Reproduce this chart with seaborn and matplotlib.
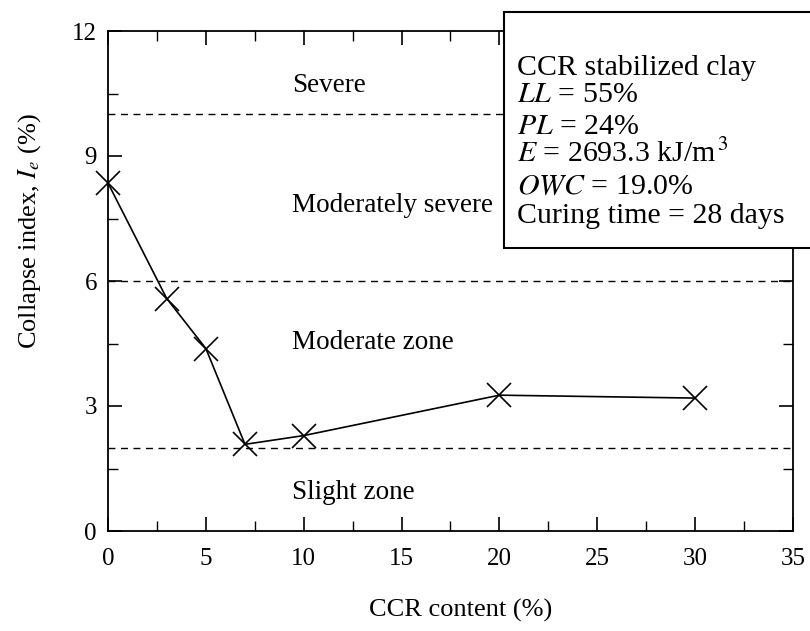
import matplotlib
matplotlib.use('Agg')
import numpy as np
import pandas as pd
import seaborn as sns
import matplotlib.pyplot as plt
from matplotlib.patches import Rectangle
from matplotlib.ticker import MultipleLocator

# data
ccr_content = [0, 3, 5, 7, 10, 20, 30]
collapse_index = [8.35, 5.58, 4.38, 2.08, 2.29, 3.26, 3.19]
zone_limits = [2, 6, 10]
zone_names = ['Severe', 'Moderately severe', 'Moderate zone', 'Slight zone']
zone_label_y = [10.7, 7.8, 4.53, 0.92]
info_lines = ['CCR stabilized clay',
              '$\\mathit{LL}$ = 55%',
              '$\\mathit{PL}$ = 24%',
              '$\\mathit{E}$ = 2693.3 kJ/m$^{\\,3}$',
              '$\\mathit{OWC}$ = 19.0%',
              'Curing time = 28 days']

df = pd.DataFrame({'ccr': ccr_content, 'ie': collapse_index})

sns.set_style('ticks', {'axes.edgecolor': 'black', 'text.color': 'black',
                        'xtick.color': 'black', 'ytick.color': 'black',
                        'axes.labelcolor': 'black'})
plt.rcParams['font.family'] = ['Liberation Serif', 'DejaVu Serif']
plt.rcParams['mathtext.fontset'] = 'stix'

W, H = 810, 631
fig = plt.figure(figsize=(W / 100, H / 100), dpi=100)
ax = fig.add_axes([108 / W, 1 - 531 / H, (793 - 108) / W, (531 - 31) / H])

# zone boundaries
for y in zone_limits:
    ax.axhline(y, color='black', linestyle=(0, (5, 4)), linewidth=1.0, zorder=1)

sns.lineplot(data=df, x='ccr', y='ie', color='black', linewidth=1.2,
             marker='x', markersize=17, markeredgewidth=1.2,
             markeredgecolor='black', ax=ax, zorder=3)
ax.lines[-1].set_clip_on(False)

for name, y in zip(zone_names, zone_label_y):
    ax.text(9.4, y, name, fontsize=19.5, va='center', ha='left', color='black')

ax.set_xlim(0, 35)
ax.set_ylim(0, 12)
ax.xaxis.set_major_locator(MultipleLocator(5))
ax.xaxis.set_minor_locator(MultipleLocator(2.5))
ax.yaxis.set_major_locator(MultipleLocator(3))
ax.yaxis.set_minor_locator(MultipleLocator(1.5))
ax.tick_params(which='both', direction='in', top=True, right=True,
               labelsize=18, colors='black')
ax.tick_params(axis='x', pad=12)
ax.tick_params(axis='y', pad=8)
ax.tick_params(which='major', length=10, width=1.2)
ax.tick_params(which='minor', length=7, width=1.0)
for s in ax.spines.values():
    s.set_linewidth(1.3)

ax.set_xlabel('CCR content (%)', fontsize=19)
ax.set_ylabel('Collapse index, $\\mathit{I_e}$ (%)', fontsize=19)
ax.xaxis.set_label_coords(0.515, -0.135)
ax.yaxis.set_label_coords(-0.095, 0.6)

# info box (runs off the right edge of the figure)
fig.patches.append(Rectangle((504 / W, 1 - 248 / H), 320 / W, 236 / H,
                             transform=fig.transFigure, facecolor='white',
                             edgecolor='black', linewidth=1.5, zorder=5))
line_y = [65, 92, 124, 151, 184, 213]
for txt, yp in zip(info_lines, line_y):
    fig.text(517 / W, 1 - yp / H, txt, fontsize=21.5, va='center_baseline',
             ha='left', color='black', zorder=6)

fig.savefig('out.png', dpi=100)
